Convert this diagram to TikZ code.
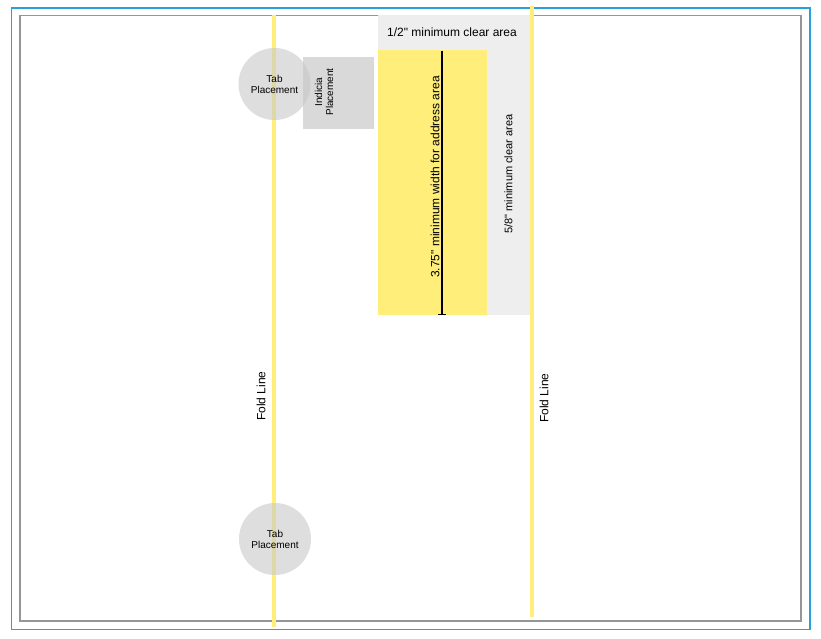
\documentclass[tikz,border=0pt]{standalone}
\usepackage{fontspec}
\setmainfont{Liberation Sans}
\usepackage{xcolor}
\usepackage{tikz}
\usetikzlibrary{arrows.meta}

\definecolor{pageblue}{RGB}{41,160,216}
\definecolor{pagegray}{RGB}{150,150,150}
\definecolor{foldyellow}{RGB}{255,238,122}
\definecolor{cleargray}{RGB}{238,238,238}
\definecolor{indiciagray}{RGB}{217,217,217}
\definecolor{tabgray}{RGB}{200,200,200}

\tikzset{
  foldline/.style={foldyellow, line width=4pt},
  tabcircle/.style={circle, fill=tabgray, fill opacity=0.6, text opacity=1,
    minimum size=72pt, inner sep=0pt, align=center, font=\fontsize{10}{11}\selectfont},
  label12/.style={font=\fontsize{12}{14}\selectfont, inner sep=0pt},
}

\begin{document}
\begin{tikzpicture}[x=1pt, y=-1pt]
  \useasboundingbox (0,0) rectangle (821,639);
  % page outlines
  \draw[pageblue, line width=1.5pt] (11.5,8) rectangle (810,629.5);
  \draw[pagegray, line width=1.5pt] (20,15.5) rectangle (801,621);
  % clear areas and address area
  \fill[cleargray] (378,15) rectangle (530,315);
  \fill[foldyellow] (378,50) rectangle (487,315);
  \fill[indiciagray] (303,57) rectangle (374,129);
  % fold lines
  \draw[foldline] (274,15) -- (274,627);
  \draw[foldline] (531.5,6) -- (531.5,617);
  % address width marker
  \coordinate (addrTop) at (442,51);
  \coordinate (addrBot) at (442,315);
  \draw[line width=1.2pt, -{Bar[width=8pt]}] (addrTop) -- (addrBot);
  \node[label12, rotate=90] (addrLabel) at (435,177) {3.75\textquotedbl{} minimum width for address area};
  \node[font=\fontsize{11}{13}\selectfont, inner sep=0pt, rotate=90] (sideClear) at (508.5,174) {5/8\textquotedbl{} minimum clear area};
  \node[label12] (topClear) at (452,32) {1/2\textquotedbl{} minimum clear area};
  % placements
  \node[rotate=90, align=center, font=\fontsize{10}{11}\selectfont, inner sep=0pt] (indicia) at (324,92) {Indicia\\Placement};
  \node[tabcircle] (tabTop) at (274.5,84) {Tab\\Placement};
  \node[tabcircle] (tabBot) at (275,539) {Tab\\Placement};
  % fold labels
  \node[label12, rotate=90] (foldLeft) at (261,396) {Fold Line};
  \node[label12, rotate=90] (foldRight) at (544,398) {Fold Line};
\end{tikzpicture}
\end{document}
